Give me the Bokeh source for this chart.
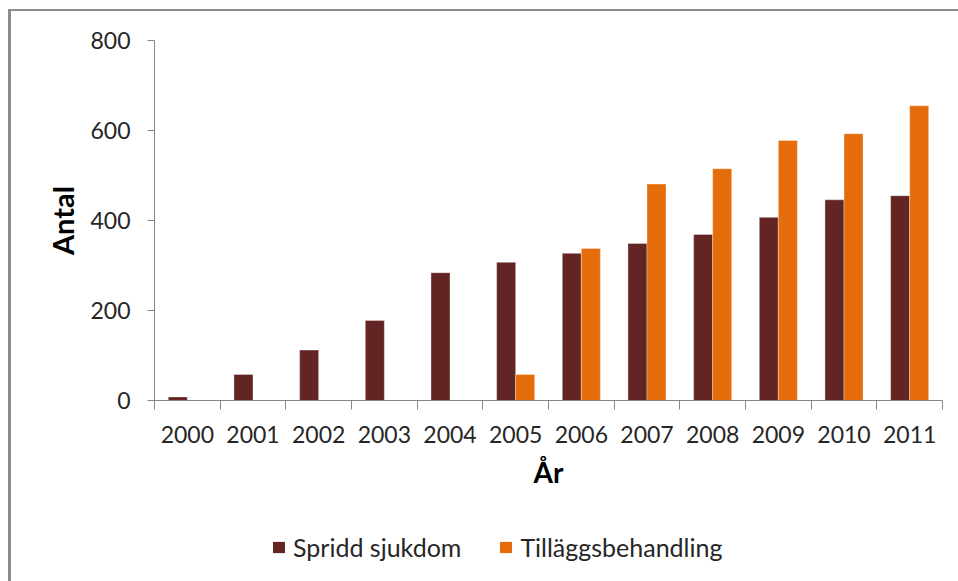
from bokeh.plotting import figure
from bokeh.models import (Range1d, FixedTicker, Legend, LegendItem, ColumnDataSource)
from bokeh.layouts import column
from bokeh.embed import file_html
from bokeh.resources import INLINE

years = ["2000", "2001", "2002", "2003", "2004", "2005",
         "2006", "2007", "2008", "2009", "2010", "2011"]
spridd = [8, 58, 112, 178, 284, 307, 327, 349, 369, 407, 446, 455]
tillagg = [0, 0, 0, 0, 0, 58, 338, 481, 515, 578, 593, 655]
y_ticks = [0, 200, 400, 600, 800]
series_names = ["Spridd sjukdom", "Tilläggsbehandling"]

MAROON = "#632523"
ORANGE = "#E46C0A"
AXIS = "#868686"
TEXT = "#262626"
BORDER = "#8c8c8c"
FONT = "Lato"

n = len(years)
centers = [i + 0.5 for i in range(n)]
bw = 0.29

src1 = ColumnDataSource(dict(x=[c - bw / 2 for c in centers], top=spridd))
src2 = ColumnDataSource(dict(x=[c + bw / 2 for c in centers], top=tillagg))

bg_main = (f"linear-gradient({BORDER},{BORDER}) 8px 9px / 3px 100% no-repeat, "
           f"linear-gradient({BORDER},{BORDER}) 8px 9px / 100% 2px no-repeat, #ffffff")
bg_leg = f"linear-gradient({BORDER},{BORDER}) 8px 0px / 3px 100% no-repeat, #ffffff"

p = figure(width=958, height=520, output_backend="svg", toolbar_location=None,
           x_range=Range1d(0, n), y_range=Range1d(0, 800),
           min_border_left=154, min_border_right=16, min_border_top=40,
           min_border_bottom=120, styles={"background": bg_main})
p.border_fill_color = None
p.outline_line_color = None
p.xgrid.visible = False
p.ygrid.visible = False

p.vbar(x="x", top="top", width=bw, source=src1, fill_color=MAROON,
       line_color="white", line_alpha=0.35, line_width=1)
p.vbar(x="x", top="top", width=bw, source=src2, fill_color=ORANGE,
       line_color="white", line_alpha=0.35, line_width=1)

# x axis
xa = p.xaxis[0]
xa.ticker = FixedTicker(ticks=centers, minor_ticks=list(range(n + 1)))
xa.major_label_overrides = {c: y for c, y in zip(centers, years)}
xa.major_tick_line_color = None
xa.major_tick_out = 0
xa.major_tick_in = 0
xa.minor_tick_line_color = AXIS
xa.minor_tick_out = 9
xa.minor_tick_in = 0
xa.axis_line_color = AXIS
xa.major_label_text_font = FONT
xa.major_label_text_font_size = "23px"
xa.major_label_text_color = TEXT
xa.major_label_standoff = 16
xa.axis_label = "År"
xa.axis_label_text_font = FONT
xa.axis_label_text_font_style = "bold"
xa.axis_label_text_font_size = "28px"
xa.axis_label_text_color = "#000000"
xa.axis_label_standoff = 9

# y axis
ya = p.yaxis[0]
ya.ticker = FixedTicker(ticks=y_ticks)
ya.major_tick_line_color = AXIS
ya.major_tick_out = 7
ya.major_tick_in = 0
ya.minor_tick_line_color = None
ya.axis_line_color = AXIS
ya.major_label_text_font = FONT
ya.major_label_text_font_size = "23px"
ya.major_label_text_color = TEXT
ya.major_label_standoff = 17
ya.axis_label = "Antal"
ya.axis_label_text_font = FONT
ya.axis_label_text_font_style = "bold"
ya.axis_label_text_font_size = "29px"
ya.axis_label_text_color = "#000000"
ya.axis_label_standoff = 7

# legend strip (its frame is aligned with the chart frame by the column)
pl = figure(width=958, height=61, output_backend="svg", toolbar_location=None,
            x_range=Range1d(0, 1), y_range=Range1d(0, 1),
            x_axis_type=None, y_axis_type=None, min_border=0,
            styles={"background": bg_leg})
pl.border_fill_color = None
pl.background_fill_color = None
pl.outline_line_color = None
pl.xgrid.visible = False
pl.ygrid.visible = False
g1 = pl.vbar(x="x", top="top", width=bw, source=src1, fill_color=MAROON,
             line_color=None, visible=False)
g2 = pl.vbar(x="x", top="top", width=bw, source=src2, fill_color=ORANGE,
             line_color=None, visible=False)

legend = Legend(items=[LegendItem(label=series_names[0], renderers=[g1]),
                       LegendItem(label=series_names[1], renderers=[g2])],
                orientation="horizontal", location=(117, 19),
                glyph_width=15, glyph_height=14, label_standoff=7,
                spacing=37, padding=0, margin=0,
                border_line_color=None, background_fill_alpha=0,
                inactive_fill_alpha=0,
                label_text_font=FONT, label_text_font_size="25px",
                label_text_color=TEXT)
pl.add_layout(legend, "center")

layout = column(p, pl, spacing=0)
open("out.html", "w").write(file_html(layout, INLINE))
